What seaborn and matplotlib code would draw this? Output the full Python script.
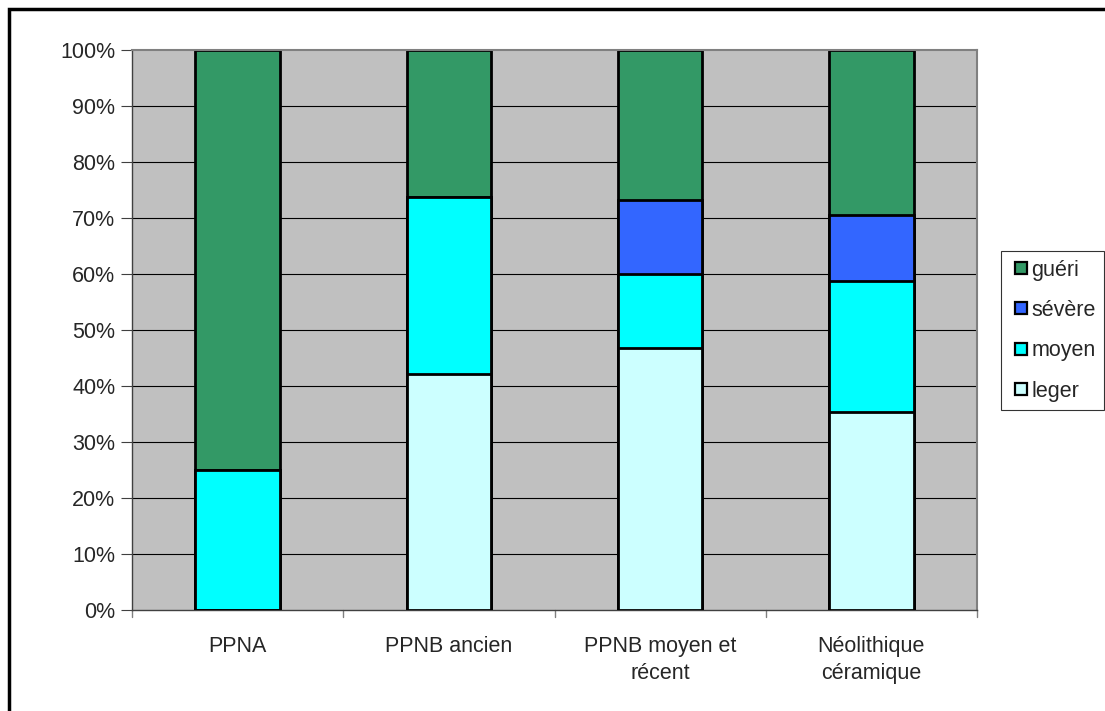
import matplotlib
matplotlib.use("Agg")
import matplotlib.pyplot as plt
import matplotlib.patches as mpatches
from matplotlib.lines import Line2D
import numpy as np
import pandas as pd
import seaborn as sns

categories = ["PPNA", "PPNB ancien", "PPNB moyen et\nrécent", "Néolithique\ncéramique"]
leger = [0.0, 42.1, 46.7, 35.3]
moyen = [25.0, 31.6, 13.3, 23.5]
severe = [0.0, 0.0, 13.3, 11.8]
gueri = [75.0, 26.3, 26.7, 29.4]
series_names = ["leger", "moyen", "sévère", "guéri"]
colors = {"leger": "#CCFFFF", "moyen": "#00FFFF", "sévère": "#3366FF", "guéri": "#339966"}
yticks = [0, 10, 20, 30, 40, 50, 60, 70, 80, 90, 100]

sns.set_theme(style="white")
plt.rcParams["font.family"] = ["Liberation Sans", "DejaVu Sans"]
FS = 15.5

fig = plt.figure(figsize=(11.05, 7.11), dpi=100)
ax = fig.add_axes([132/1105, 1-610/711, (977-132)/1105, (610-50)/711])
ax.set_facecolor("#C0C0C0")

values = {"leger": leger, "moyen": moyen, "sévère": severe, "guéri": gueri}
cum = np.zeros(len(categories))
cums = {}
for s in series_names:
    cum = cum + np.array(values[s])
    cums[s] = cum.copy()

ax.set_axisbelow(True)
for y in yticks[1:-1]:
    ax.axhline(y, color="black", lw=0.8, zorder=0)

for i, s in enumerate(reversed(series_names)):
    df = pd.DataFrame({"cat": categories, "val": cums[s]})
    sns.barplot(data=df, x="cat", y="val", color=colors[s], saturation=1,
                width=0.4, edgecolor="black", linewidth=2, ax=ax, zorder=2 + i)

ax.set_xlim(-0.5, 3.5)
ax.set_ylim(0, 100)
ax.set_yticks(yticks)
ax.set_yticklabels([f"{v}%" for v in yticks], fontsize=FS)
ax.set_xticks(range(len(categories)))
ax.set_xticklabels(categories, fontsize=FS, linespacing=1.35)
ax.tick_params(axis="x", length=0, pad=19)
ax.tick_params(axis="y", length=8, width=0.8, color="#404040", left=True, pad=4)
for xb in [-0.5, 0.5, 1.5, 2.5, 3.5]:
    ax.plot([xb, xb], [0, -0.012], transform=ax.get_xaxis_transform(), color="#808080",
            lw=1, clip_on=False)
ax.set_xlabel("")
ax.set_ylabel("")
for side in ["left", "bottom"]:
    ax.spines[side].set_color("#404040")
    ax.spines[side].set_linewidth(1)
for side in ["top", "right"]:
    ax.spines[side].set_color("#808080")
    ax.spines[side].set_linewidth(1.5)

handles = [Line2D([], [], linestyle="", marker="s", markersize=8.6,
                  markerfacecolor=colors[s], markeredgecolor="black",
                  markeredgewidth=1.6, label=s)
           for s in reversed(series_names)]
leg = fig.legend(handles=handles, loc="upper left",
                 bbox_to_anchor=(1001/1105, 1-251/711), fontsize=FS,
                 frameon=True, fancybox=False, handlelength=1.1, handleheight=0.7,
                 handletextpad=-0.1, labelspacing=0.9, borderpad=0.4, borderaxespad=0)
leg.get_frame().set_edgecolor("black")
leg.get_frame().set_linewidth(0.8)

border = mpatches.Rectangle((9/1105, -0.1), 1.2, 1 - 9/711 + 0.1, transform=fig.transFigure,
                            fill=False, edgecolor="black", linewidth=2.5)
fig.patches.append(border)

fig.savefig("out.png", dpi=100, facecolor="white")
